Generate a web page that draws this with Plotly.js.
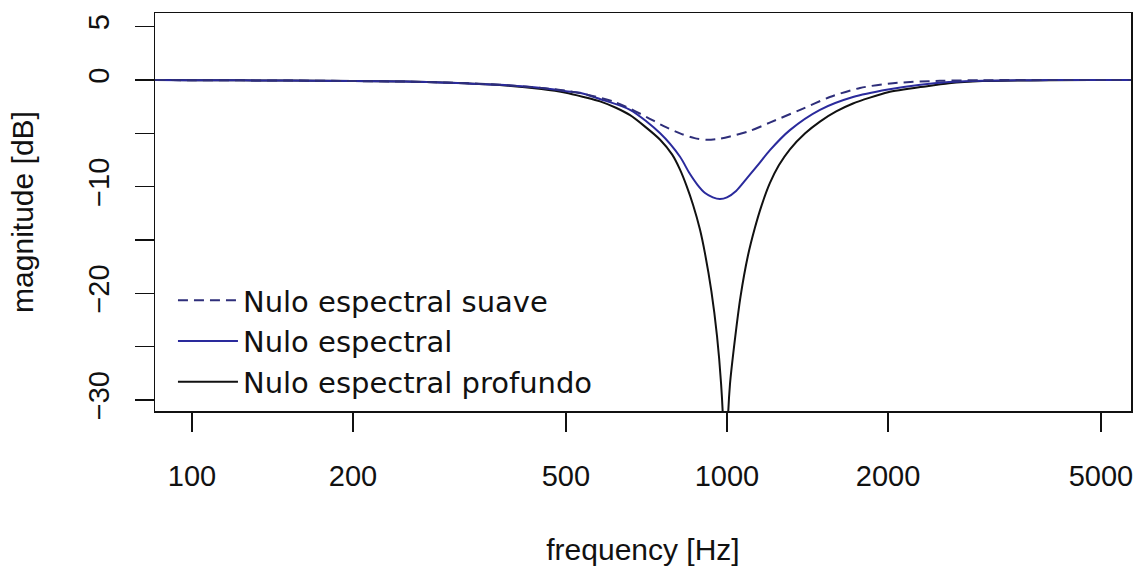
<!DOCTYPE html>
<html>
<head>
<meta charset="utf-8">
<script src="https://cdn.plot.ly/plotly-3.0.1.min.js"></script>
<style>
  html, body { margin: 0; padding: 0; background: #ffffff; }
  #chart { width: 1137px; height: 566px; }
</style>
</head>
<body>
<div id="chart"></div>
<script>
// Series names (legend order)
const seriesNames = ["Nulo espectral suave", "Nulo espectral", "Nulo espectral profundo"];

// Deep null (black)
const freqDeep = [40, 85, 100, 150, 200, 250, 303, 376, 450, 500, 540, 579, 620, 659, 700, 750, 790, 817, 840, 864, 890, 910, 935, 958, 975, 985, 993, 1002, 1013, 1036, 1060, 1094, 1127, 1160, 1202, 1250, 1311, 1400, 1492, 1600, 1720, 2000, 2350, 2600, 3000, 4000, 5690, 8000];
const magDeep  = [0, 0, -0.02, -0.05, -0.1, -0.15, -0.25, -0.47, -0.85, -1.2, -1.6, -2.0, -2.6, -3.3, -4.3, -5.6, -7.0, -8.4, -9.9, -11.7, -14.0, -16.3, -19.8, -24.0, -28.5, -33.0, -50.0, -33.0, -28.5, -24.1, -20.3, -16.5, -13.9, -11.8, -9.7, -8.0, -6.5, -5.0, -3.9, -2.95, -2.2, -1.15, -0.6, -0.3, -0.1, -0.02, 0, 0];

// Spectral null (solid blue)
const freqMid = [40, 85, 100, 150, 200, 250, 300, 376, 450, 500, 531, 580, 659, 750, 817, 850, 880, 910, 941, 970, 1000, 1040, 1090, 1150, 1202, 1311, 1492, 1720, 2000, 2300, 2600, 3000, 4000, 5690, 8000];
const magMid  = [0, 0, -0.02, -0.05, -0.1, -0.15, -0.25, -0.45, -0.75, -1.05, -1.2, -1.8, -2.8, -5.0, -7.2, -8.7, -9.8, -10.6, -11.0, -11.15, -11.0, -10.4, -9.2, -7.8, -6.6, -4.7, -2.8, -1.6, -0.9, -0.45, -0.2, -0.06, -0.01, 0, 0];

// Soft spectral null (dashed blue)
const freqSoft = [40, 85, 100, 150, 200, 250, 300, 376, 450, 500, 550, 612, 660, 709, 760, 817, 870, 918, 970, 1013, 1100, 1202, 1370, 1557, 1773, 2043, 2500, 3000, 4000, 5690, 8000];
const magSoft  = [0, 0, -0.02, -0.05, -0.1, -0.15, -0.24, -0.45, -0.75, -1.0, -1.4, -2.0, -2.7, -3.5, -4.3, -5.0, -5.45, -5.6, -5.5, -5.3, -4.8, -4.0, -2.8, -1.6, -0.75, -0.3, -0.08, -0.02, 0, 0, 0];

// Axis ticks
const xTickVals = [100, 200, 500, 1000, 2000, 5000];
const xTickText = ["100", "200", "500", "1000", "2000", "5000"];
const yTickVals = [5, 0, -5, -10, -15, -20, -25, -30];
const yTickText = ["5", "0", "", "\u221210", "", "\u221220", "", "\u221230"];

const FONT = "Liberation Sans, Arial, Helvetica, sans-serif";
const LEGEND_FONT = "DejaVu Sans, Liberation Sans, sans-serif";

const traces = [
  {
    x: freqDeep, y: magDeep, name: seriesNames[2], type: "scatter", mode: "lines",
    line: { color: "#111111", width: 2, shape: "spline", smoothing: 0.6 }
  },
  {
    x: freqMid, y: magMid, name: seriesNames[1], type: "scatter", mode: "lines",
    line: { color: "#2a2a9c", width: 2, shape: "spline", smoothing: 0.8 }
  },
  {
    x: freqSoft, y: magSoft, name: seriesNames[0], type: "scatter", mode: "lines",
    line: { color: "#2e2e7a", width: 2, dash: "10px,6px", shape: "spline", smoothing: 0.8 }
  }
];

const layout = {
  width: 1137, height: 566,
  paper_bgcolor: "#ffffff", plot_bgcolor: "#ffffff",
  margin: { l: 155, r: 6, t: 13, b: 155, pad: 0 },
  font: { family: FONT, color: "#111111", size: 29 },
  showlegend: true,
  legend: {
    x: 0.0184, y: 0.342, xanchor: "left", yanchor: "top",
    traceorder: "reversed",
    itemwidth: 60,
    bgcolor: "rgba(0,0,0,0)", borderwidth: 0,
    font: { family: LEGEND_FONT, size: 29, color: "#111111" },
    tracegroupgap: 0
  },
  xaxis: {
    type: "log",
    range: [Math.log10(85.3), Math.log10(5690)],
    tickmode: "array", tickvals: xTickVals, ticktext: xTickText,
    ticks: "outside", ticklen: 19, tickwidth: 1.3, tickcolor: "#111111",
    ticklabelstandoff: 20,
    showgrid: false, zeroline: false,
    showline: true, mirror: true, linecolor: "#111111", linewidth: 1.5,
    tickfont: { family: FONT, size: 29, color: "#111111" },
    title: { text: "frequency [Hz]", font: { family: FONT, size: 30, color: "#111111" }, standoff: 50 }
  },
  yaxis: {
    range: [-31.03, 6.28],
    tickmode: "array", tickvals: yTickVals, ticktext: yTickText,
    tickangle: -90,
    ticks: "outside", ticklen: 19, tickwidth: 1.3, tickcolor: "#111111",
    ticklabelstandoff: 14,
    showgrid: false, zeroline: false,
    showline: true, mirror: true, linecolor: "#111111", linewidth: 1.5,
    tickfont: { family: FONT, size: 29, color: "#111111" },
    title: { text: "magnitude [dB]", font: { family: FONT, size: 30, color: "#111111" }, standoff: 40 }
  }
};

Plotly.newPlot("chart", traces, layout, { displayModeBar: false, staticPlot: true });
</script>
</body>
</html>
